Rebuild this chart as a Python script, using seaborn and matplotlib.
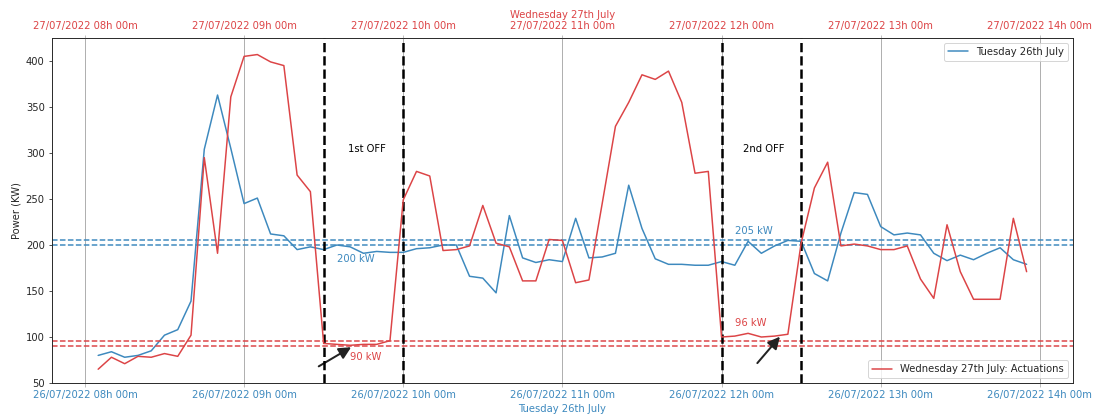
import numpy as np
import pandas as pd
import matplotlib
matplotlib.use("Agg")
import matplotlib.pyplot as plt
import matplotlib.dates as mdates
import seaborn as sns

# ---- data ----
tuesday_times = pd.date_range("2022-07-26 08:05", "2022-07-26 13:55", freq="5min")
wednesday_times = pd.date_range("2022-07-27 08:05", "2022-07-27 13:55", freq="5min")

tuesday_kw = [80, 84, 78, 80, 85, 102, 108, 139, 304, 363, 305, 245, 251, 212, 210, 195,
              198, 195, 200, 198, 191, 193, 192, 192, 196, 197, 200, 200, 166, 164, 148,
              232, 186, 181, 184, 182, 229, 186, 187, 191, 265, 218, 185, 179, 179, 178,
              178, 182, 178, 204, 191, 199, 205, 204, 169, 161, 213, 257, 255, 220, 211,
              213, 211, 191, 183, 189, 184, 191, 197, 184, 179]

wednesday_kw = [65, 78, 71, 79, 78, 82, 79, 102, 295, 191, 361, 405, 407, 399, 395, 276,
                258, 93, 92, 91, 92, 92, 96, 249, 280, 275, 194, 195, 199, 243, 202, 198,
                161, 161, 206, 205, 159, 162, 245, 329, 355, 385, 380, 389, 355, 278, 280,
                100, 101, 104, 100, 101, 103, 202, 262, 290, 199, 201, 199, 195, 195, 199,
                163, 142, 222, 171, 141, 141, 141, 229, 171]

tuesday_levels = [200, 205]
wednesday_levels = [90, 96]
off_times = ["2022-07-26 09:30", "2022-07-26 10:00", "2022-07-26 12:00", "2022-07-26 12:30"]

BLUE = "#3d89be"
RED = "#dc4446"

sns.set_style("ticks")
plt.rcParams["font.family"] = ["DejaVu Sans"]
plt.rcParams["font.size"] = 10

fig = plt.figure(figsize=(1101 / 72, 417 / 72), dpi=72)
ax = fig.add_axes([0.047, 0.0815, 0.9276, 0.8274])

df_t = pd.DataFrame({"time": tuesday_times, "kw": tuesday_kw})
df_w = pd.DataFrame({"time": wednesday_times, "kw": wednesday_kw})

sns.lineplot(data=df_t, x="time", y="kw", ax=ax, color=BLUE, lw=1.5,
             label="Tuesday 26th July")

for lv in tuesday_levels:
    ax.axhline(lv, color=BLUE, ls="--", lw=1.5)
for lv in wednesday_levels:
    ax.axhline(lv, color=RED, ls="--", lw=1.5)
for t in off_times:
    ax.axvline(pd.Timestamp(t), color="black", ls="--", lw=2.5, zorder=5)

ax.set_ylim(50, 425)
ax.set_ylabel("Power (KW)")
ax.set_xlabel("Tuesday 26th July", color=BLUE)
ax.xaxis.set_major_locator(mdates.HourLocator())
ax.xaxis.set_major_formatter(mdates.DateFormatter("%d/%m/%Y %Hh %Mm"))
ax.tick_params(axis="x", labelcolor=BLUE, color="#b0b0b0")
ax.grid(axis="x", color="#b0b0b0", lw=1)
ax.grid(axis="y", visible=False)
ax.legend(loc="upper right")

def T(s):
    return mdates.date2num(pd.Timestamp(s))

ax.text(T("2022-07-26 09:35"), 185, "200 kW", color=BLUE, va="center")
ax.text(T("2022-07-26 12:05"), 215, "205 kW", color=BLUE, va="center")
ax.text(T("2022-07-26 09:40"), 78, "90 kW", color=RED, va="center")
ax.text(T("2022-07-26 12:05"), 115, "96 kW", color=RED, va="center")
ax.text(T("2022-07-26 09:39"), 304, "1st OFF", color="black", va="center")
ax.text(T("2022-07-26 12:08"), 304, "2nd OFF", color="black", va="center")

arrow = dict(arrowstyle="-|>", color="#222222", lw=2, mutation_scale=25)
ax.annotate("", xy=(T("2022-07-26 09:41"), 90), xytext=(T("2022-07-26 09:27.5"), 67),
            arrowprops=arrow)
ax.annotate("", xy=(T("2022-07-26 12:22.5"), 102), xytext=(T("2022-07-26 12:13"), 70),
            arrowprops=arrow)

ax2 = ax.twiny()
sns.lineplot(data=df_w, x="time", y="kw", ax=ax2, color=RED, lw=1.5,
             label="Wednesday 27th July: Actuations")
x0, x1 = ax.get_xlim()
ax2.set_xlim(x0 + 1, x1 + 1)
ax2.set_ylim(50, 425)
ax2.xaxis.set_major_locator(mdates.HourLocator())
ax2.xaxis.set_major_formatter(mdates.DateFormatter("%d/%m/%Y %Hh %Mm"))
ax2.tick_params(axis="x", labelcolor=RED, color="#b0b0b0")
ax2.set_xlabel("Wednesday 27th July", color=RED, labelpad=3)
ax2.set_ylabel("")
ax2.legend(loc="lower right")

fig.savefig("out.png", dpi=72)
